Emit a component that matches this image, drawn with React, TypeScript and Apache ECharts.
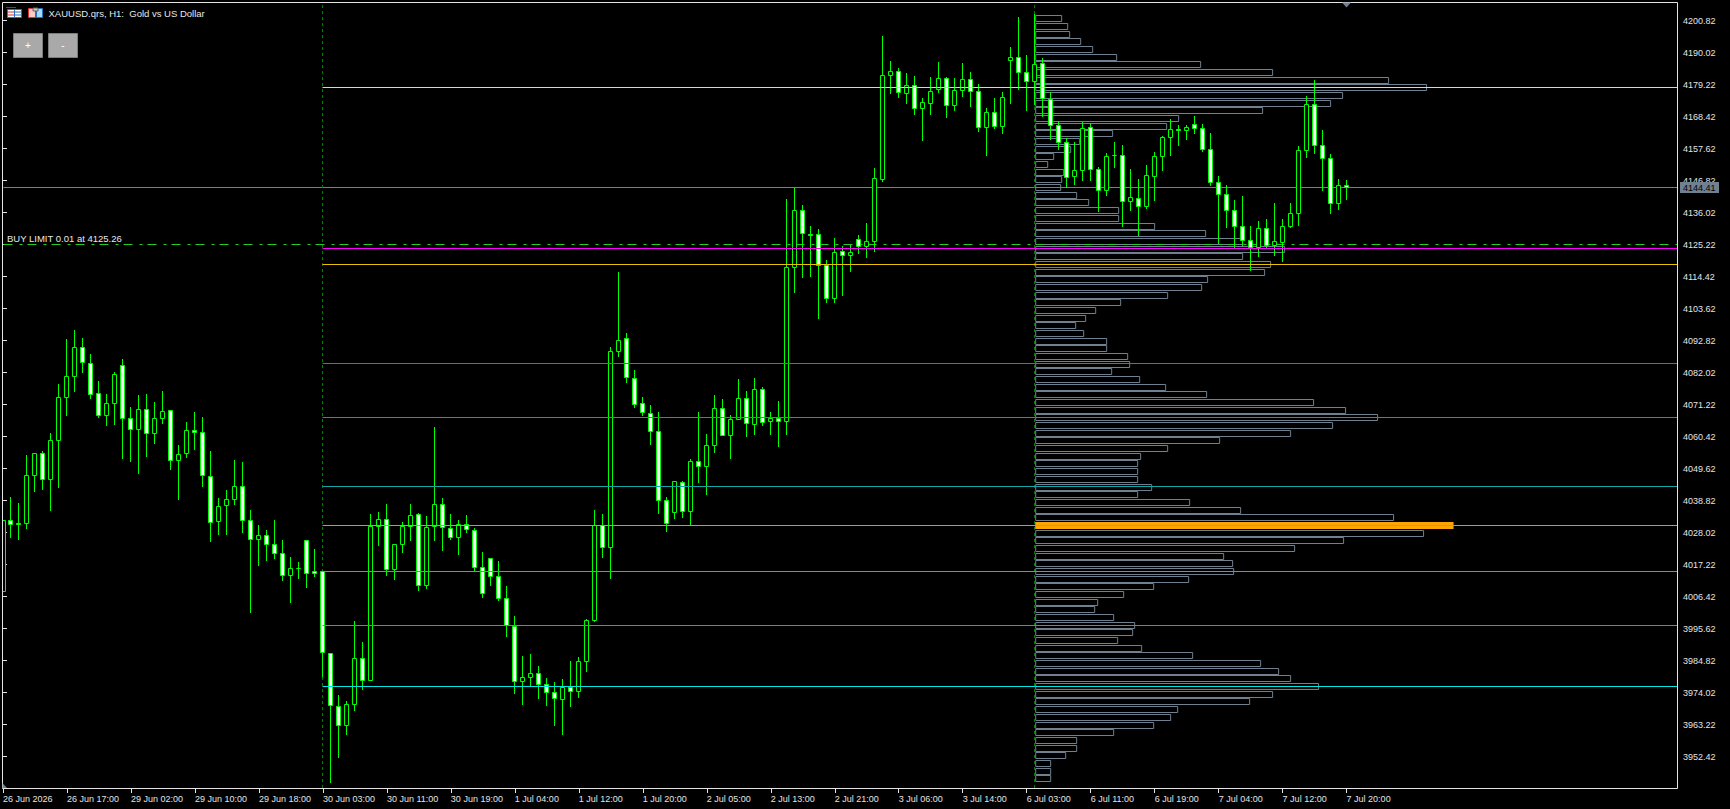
import React, { useEffect, useRef } from "react";
import * as echarts from "echarts";

const FONT = "'Liberation Sans', Arial, sans-serif";

// Hourly bars: [open, close, low, high]
const candles: number[][] = [
  [4008.2, 4032.0, 4008.0, 4032.1],
  [4032.0, 4030.8, 4026.5, 4040.0],
  [4031.0, 4030.7, 4025.8, 4037.9],
  [4031.2, 4047.2, 4029.5, 4054.1],
  [4047.4, 4054.6, 4042.0, 4054.7],
  [4054.6, 4046.0, 4042.7, 4055.5],
  [4046.0, 4059.0, 4035.6, 4061.4],
  [4059.2, 4073.5, 4043.3, 4078.1],
  [4073.7, 4080.6, 4067.6, 4093.3],
  [4080.8, 4090.4, 4075.7, 4096.3],
  [4090.4, 4085.3, 4082.1, 4093.6],
  [4085.0, 4074.7, 4073.4, 4088.2],
  [4074.8, 4067.6, 4067.0, 4079.1],
  [4067.6, 4071.5, 4064.3, 4074.7],
  [4071.7, 4081.3, 4064.6, 4082.1],
  [4084.3, 4066.6, 4053.1, 4086.5],
  [4066.4, 4062.9, 4052.1, 4070.3],
  [4062.9, 4069.4, 4048.1, 4074.4],
  [4069.4, 4061.5, 4053.8, 4074.7],
  [4061.5, 4066.4, 4058.1, 4072.0],
  [4066.6, 4068.8, 4064.9, 4075.7],
  [4069.1, 4052.4, 4049.4, 4069.2],
  [4052.4, 4054.3, 4039.3, 4057.5],
  [4054.8, 4062.4, 4053.5, 4065.3],
  [4062.4, 4061.9, 4056.2, 4068.6],
  [4061.7, 4047.4, 4043.7, 4067.0],
  [4046.8, 4031.5, 4025.1, 4055.5],
  [4031.8, 4036.7, 4027.5, 4039.6],
  [4037.2, 4039.1, 4027.5, 4042.3],
  [4039.3, 4043.5, 4037.6, 4052.4],
  [4043.5, 4032.2, 4028.1, 4051.8],
  [4032.0, 4025.8, 4001.1, 4035.6],
  [4025.8, 4026.9, 4016.8, 4030.5],
  [4026.9, 4024.1, 4018.7, 4028.8],
  [4023.9, 4021.0, 4019.4, 4032.2],
  [4020.8, 4013.6, 4011.9, 4025.4],
  [4013.6, 4015.8, 4004.5, 4019.7],
  [4016.0, 4015.8, 4012.6, 4018.0],
  [4025.2, 4014.3, 4009.6, 4025.3],
  [4014.8, 4014.3, 4013.3, 4022.4],
  [4014.7, 3987.4, 3979.3, 4014.9],
  [3987.1, 3969.5, 3943.5, 3987.2],
  [3969.2, 3963.0, 3952.2, 3973.1],
  [3963.0, 3969.9, 3960.0, 3971.1],
  [3970.1, 3985.4, 3968.1, 3998.1],
  [3985.4, 3978.2, 3975.2, 3991.0],
  [3978.2, 4030.0, 3978.0, 4034.2],
  [4030.1, 4032.3, 4023.8, 4034.9],
  [4032.3, 4015.6, 4013.6, 4037.6],
  [4015.5, 4023.9, 4012.3, 4024.0],
  [4024.1, 4030.1, 4021.4, 4031.5],
  [4030.1, 4033.7, 4025.4, 4037.6],
  [4034.0, 4010.2, 4008.6, 4034.6],
  [4010.2, 4029.6, 4009.2, 4033.5],
  [4029.9, 4037.4, 4025.4, 4063.6],
  [4037.4, 4029.6, 4022.1, 4039.6],
  [4029.3, 4026.5, 4025.8, 4034.2],
  [4026.4, 4030.6, 4020.7, 4032.2],
  [4030.6, 4028.9, 4028.1, 4033.9],
  [4028.6, 4016.3, 4015.0, 4029.4],
  [4016.1, 4007.5, 4006.2, 4021.4],
  [4019.2, 4013.3, 4010.3, 4019.3],
  [4013.1, 4005.8, 4005.2, 4018.4],
  [4005.7, 3996.8, 3993.0, 4009.9],
  [3996.4, 3977.8, 3973.8, 3999.8],
  [3977.8, 3979.0, 3970.1, 3986.3],
  [3979.2, 3980.3, 3976.5, 3987.0],
  [3980.3, 3976.8, 3972.1, 3982.9],
  [3976.6, 3974.1, 3969.8, 3978.9],
  [3973.9, 3972.1, 3963.0, 3977.5],
  [3971.8, 3975.8, 3960.0, 3978.5],
  [3975.8, 3974.5, 3969.4, 3984.6],
  [3974.5, 3984.4, 3972.5, 3986.0],
  [3984.6, 3998.2, 3981.2, 3998.7],
  [3998.4, 4030.3, 3997.9, 4035.6],
  [4030.3, 4023.1, 4019.7, 4034.2],
  [4023.1, 4089.1, 4012.6, 4090.6],
  [4089.1, 4092.8, 4087.5, 4115.9],
  [4093.5, 4080.3, 4078.8, 4095.2],
  [4080.0, 4071.2, 4070.3, 4082.8],
  [4071.5, 4068.4, 4067.4, 4073.7],
  [4068.1, 4062.2, 4057.8, 4071.0],
  [4062.0, 4038.9, 4034.6, 4068.6],
  [4038.7, 4031.2, 4028.5, 4040.0],
  [4034.9, 4045.1, 4032.9, 4045.2],
  [4044.8, 4035.2, 4033.2, 4045.4],
  [4035.2, 4051.9, 4030.4, 4052.8],
  [4051.9, 4050.4, 4045.0, 4068.6],
  [4050.4, 4057.3, 4041.0, 4061.2],
  [4057.5, 4069.8, 4055.1, 4074.4],
  [4069.8, 4060.9, 4060.6, 4073.0],
  [4060.9, 4066.1, 4053.1, 4067.6],
  [4066.3, 4073.2, 4066.0, 4079.8],
  [4073.2, 4064.9, 4060.5, 4075.7],
  [4064.6, 4076.2, 4061.2, 4080.1],
  [4076.2, 4065.2, 4064.0, 4077.1],
  [4065.6, 4066.4, 4061.2, 4068.6],
  [4066.4, 4065.6, 4057.2, 4072.4],
  [4065.6, 4117.4, 4061.2, 4140.5],
  [4117.6, 4136.6, 4109.1, 4144.2],
  [4136.6, 4128.8, 4114.2, 4138.5],
  [4128.6, 4128.4, 4114.5, 4131.4],
  [4128.5, 4118.3, 4100.4, 4130.4],
  [4118.2, 4107.1, 4105.8, 4119.9],
  [4107.1, 4122.4, 4105.8, 4127.4],
  [4122.8, 4121.6, 4108.1, 4124.7],
  [4121.6, 4122.4, 4116.2, 4125.0],
  [4126.8, 4124.6, 4122.3, 4128.4],
  [4124.6, 4126.1, 4121.0, 4132.4],
  [4126.3, 4147.4, 4123.0, 4151.0],
  [4147.0, 4182.2, 4146.6, 4195.5],
  [4182.4, 4183.5, 4176.3, 4187.1],
  [4183.5, 4176.4, 4175.0, 4184.7],
  [4176.3, 4178.8, 4172.9, 4183.1],
  [4178.8, 4171.2, 4169.2, 4182.0],
  [4171.2, 4173.1, 4160.4, 4174.6],
  [4172.9, 4176.8, 4169.2, 4181.7],
  [4177.5, 4181.2, 4176.6, 4186.8],
  [4181.2, 4172.2, 4168.2, 4181.7],
  [4172.2, 4177.1, 4170.6, 4181.4],
  [4177.3, 4180.8, 4175.3, 4186.4],
  [4180.8, 4177.0, 4171.9, 4183.4],
  [4176.8, 4164.8, 4163.5, 4179.3],
  [4164.8, 4169.7, 4155.4, 4171.2],
  [4169.7, 4165.1, 4164.5, 4174.6],
  [4165.1, 4174.7, 4162.8, 4176.6],
  [4187.4, 4188.2, 4172.9, 4191.8],
  [4188.2, 4183.4, 4177.7, 4202.0],
  [4183.2, 4180.3, 4170.6, 4189.1],
  [4180.3, 4185.9, 4172.6, 4203.0],
  [4186.2, 4174.4, 4168.5, 4188.0],
  [4174.1, 4165.5, 4160.8, 4176.5],
  [4165.3, 4159.7, 4157.4, 4166.7],
  [4159.6, 4147.9, 4144.6, 4161.0],
  [4148.3, 4150.1, 4145.6, 4159.8],
  [4150.3, 4164.3, 4146.9, 4166.5],
  [4164.6, 4150.6, 4146.9, 4166.1],
  [4150.4, 4143.3, 4136.5, 4151.3],
  [4143.5, 4154.8, 4141.9, 4156.1],
  [4155.3, 4155.1, 4151.3, 4159.8],
  [4155.2, 4139.8, 4131.4, 4158.8],
  [4139.8, 4141.0, 4136.8, 4150.7],
  [4140.7, 4138.1, 4128.4, 4147.3],
  [4138.1, 4148.4, 4137.5, 4152.0],
  [4148.3, 4154.8, 4140.2, 4156.4],
  [4155.0, 4161.2, 4150.3, 4161.8],
  [4161.4, 4163.9, 4155.4, 4167.5],
  [4163.9, 4163.7, 4158.8, 4165.5],
  [4163.8, 4164.6, 4160.8, 4165.5],
  [4165.6, 4164.5, 4162.8, 4168.5],
  [4164.3, 4157.4, 4156.7, 4165.8],
  [4157.2, 4146.2, 4145.3, 4162.8],
  [4146.1, 4142.2, 4125.7, 4148.3],
  [4142.0, 4136.8, 4131.1, 4145.3],
  [4136.6, 4131.4, 4124.3, 4140.2],
  [4131.2, 4126.7, 4125.0, 4141.5],
  [4126.5, 4124.1, 4116.6, 4131.4],
  [4124.1, 4130.5, 4121.3, 4133.1],
  [4130.5, 4124.9, 4124.2, 4133.8],
  [4125.0, 4126.1, 4121.6, 4139.2],
  [4126.0, 4131.2, 4119.6, 4133.8],
  [4131.4, 4135.6, 4131.1, 4139.2],
  [4135.8, 4156.9, 4131.8, 4158.4],
  [4157.0, 4172.4, 4154.7, 4175.3],
  [4172.4, 4158.7, 4156.1, 4180.7],
  [4158.5, 4154.3, 4143.6, 4163.8],
  [4154.2, 4139.2, 4135.8, 4155.7],
  [4139.2, 4145.0, 4137.2, 4147.3],
  [4145.0, 4144.41, 4140.5, 4146.9],
];

// Volume profile: bin price and relative volume
const profilePrices = [
  4201.42, 4198.83, 4196.24, 4193.65, 4191.06, 4188.47, 4185.87, 4183.28, 4180.69, 4178.1,
  4175.51, 4172.92, 4170.33, 4167.74, 4165.15, 4162.56, 4159.96, 4157.37, 4154.78, 4152.19,
  4149.6, 4147.01, 4144.42, 4141.83, 4139.24, 4136.65, 4134.05, 4131.46, 4128.87, 4126.28,
  4123.69, 4121.1, 4118.51, 4115.92, 4113.33, 4110.74, 4108.14, 4105.55, 4102.96, 4100.37,
  4097.78, 4095.19, 4092.6, 4090.01, 4087.42, 4084.83, 4082.23, 4079.64, 4077.05, 4074.46,
  4071.87, 4069.28, 4066.69, 4064.1, 4061.51, 4058.92, 4056.32, 4053.73, 4051.14, 4048.55,
  4045.96, 4043.37, 4040.78, 4038.19, 4035.6, 4033.01, 4030.41, 4027.82, 4025.23, 4022.64,
  4020.05, 4017.46, 4014.87, 4012.28, 4009.69, 4007.1, 4004.5, 4001.91, 3999.32, 3996.73,
  3994.14, 3991.55, 3988.96, 3986.37, 3983.78, 3981.19, 3978.59, 3976.0, 3973.41, 3970.82,
  3968.23, 3965.64, 3963.05, 3960.46, 3957.87, 3955.28, 3952.68, 3950.09, 3947.5, 3944.91,
];
const profileVolumes = [
  26, 32, 34, 45, 57, 81, 165, 237, 353, 391,
  307, 295, 227, 143, 131, 77, 44, 35, 18, 12,
  28, 26, 25, 41, 53, 83, 83, 119, 170, 207,
  249, 207, 235, 229, 172, 166, 132, 85, 60, 50,
  40, 48, 71, 71, 92, 94, 76, 104, 130, 171,
  278, 310, 342, 297, 255, 184, 132, 105, 102, 102,
  102, 116, 102, 154, 205, 358, 418, 388, 308, 259,
  188, 197, 198, 153, 118, 88, 62, 59, 78, 99,
  97, 82, 106, 157, 225, 243, 255, 283, 237, 214,
  142, 135, 118, 78, 41, 41, 30, 15, 15, 15,
];
const pointOfControl = 66;

// Horizontal levels drawn from the 30 Jun 03:00 bar
const levelPrices = [4178.21, 4123.87, 4118.47, 4085.06, 4066.8, 4043.55, 4030.4, 4014.86, 3996.6, 3976.0];
const levelColors = ["#F0F000", "#FF00FF", "#EBC000", "#1E80D0", "#32A032", "#10A8A8", "#DC9618", "#C060C0", "#E05A40", "#00E6E6"];
const levelStartBar = 40;

const lastPrice = 4144.41;
const buyLimitPrice = 4125.26;
const separatorBars = [40, 129];

const priceTicks = [
  4200.82, 4190.02, 4179.22, 4168.42, 4157.62, 4146.82, 4136.02, 4125.22, 4114.42, 4103.62,
  4092.82, 4082.02, 4071.22, 4060.42, 4049.62, 4038.82, 4028.02, 4017.22, 4006.42, 3995.62,
  3984.82, 3974.02, 3963.22, 3952.42,
];
const timeTickBars = [0, 8, 16, 24, 32, 40, 48, 56, 64, 72, 80, 88, 96, 104, 112, 120, 128, 136, 144, 152, 160, 168];
const timeTickLabels = [
  "26 Jun 2026", "26 Jun 17:00", "29 Jun 02:00", "29 Jun 10:00", "29 Jun 18:00", "30 Jun 03:00",
  "30 Jun 11:00", "30 Jun 19:00", "1 Jul 04:00", "1 Jul 12:00", "1 Jul 20:00", "2 Jul 05:00",
  "2 Jul 13:00", "2 Jul 21:00", "3 Jul 06:00", "3 Jul 14:00", "6 Jul 03:00", "6 Jul 11:00",
  "6 Jul 19:00", "7 Jul 04:00", "7 Jul 12:00", "7 Jul 20:00",
];

// Axis windows: the grid box sits on whole pixels, so bars and prices land on pixel centres.
const PRICE_MIN = 3941.4513;
const PRICE_MAX = 4207.06375;
const BAR_MIN = -0.0625;
const BAR_MAX = 209.4375;
const LAST_BAR_EDGE = 209.375;

const snap = (v: number) => Math.floor(v) + 0.5;

function levelRender(color: (i: number) => string, dash?: number[]) {
  return (params: any, api: any) => {
    const a = api.coord([api.value(0), api.value(1)]);
    const b = api.coord([LAST_BAR_EDGE, api.value(1)]);
    return {
      type: "line",
      shape: { x1: snap(a[0]), y1: snap(a[1]), x2: b[0], y2: snap(a[1]) },
      style: { stroke: color(params.dataIndex), lineWidth: 1, lineDash: dash, fill: null },
      silent: true,
    };
  };
}

function renderCandle(_p: any, api: any) {
  const i = api.value(0);
  const open = api.value(1);
  const close = api.value(2);
  const x = snap(api.coord([i, open])[0]);
  const yBodyTop = snap(api.coord([i, Math.max(open, close)])[1]);
  const yBodyBottom = snap(api.coord([i, Math.min(open, close)])[1]);
  const yHigh = snap(api.coord([i, api.value(4)])[1]);
  const yLow = snap(api.coord([i, api.value(3)])[1]);
  const green = "#00FF00";
  return {
    type: "group",
    silent: true,
    children: [
      { type: "line", shape: { x1: x, y1: yHigh - 0.5, x2: x, y2: yBodyTop }, style: { stroke: green, lineWidth: 1, fill: null } },
      { type: "line", shape: { x1: x, y1: yBodyBottom, x2: x, y2: yLow + 0.5 }, style: { stroke: green, lineWidth: 1, fill: null } },
      {
        type: "rect",
        shape: { x: x - 2, y: yBodyTop, width: 4, height: yBodyBottom - yBodyTop },
        style: { fill: close > open ? "#000000" : "#FFFFFF", stroke: green, lineWidth: 1 },
      },
    ],
  };
}

function buildOption() {
  const tickColor = "#E4E4E4";
  const plain = (data: number[][], z: number, renderItem: any, extra: any = {}) => ({
    type: "custom",
    coordinateSystem: "cartesian2d",
    data,
    z,
    silent: true,
    clip: true,
    renderItem,
    ...extra,
  });

  return {
    animation: false,
    backgroundColor: "#000000",
    textStyle: { fontFamily: FONT },
    grid: { left: 2, top: 2, width: 1676, height: 787, show: false, containLabel: false },
    xAxis: [
      {
        type: "value",
        min: BAR_MIN,
        max: BAR_MAX,
        splitLine: { show: false },
        axisLine: { show: false },
        axisTick: { show: true, length: 4, customValues: timeTickBars, lineStyle: { color: tickColor } },
        axisLabel: {
          show: true,
          customValues: timeTickBars,
          formatter: (v: number) => timeTickLabels[timeTickBars.indexOf(v)] ?? "",
          color: tickColor,
          fontFamily: FONT,
          fontSize: 9,
          align: "left",
          margin: 5,
          showMinLabel: true,
          showMaxLabel: true,
        },
      },
      { type: "value", min: -1033.5, max: 642.5, show: false, splitLine: { show: false } },
    ],
    yAxis: {
      type: "value",
      position: "right",
      min: PRICE_MIN,
      max: PRICE_MAX,
      scale: true,
      splitLine: { show: false },
      axisLine: { show: false },
      axisTick: { show: true, length: 4, customValues: priceTicks, lineStyle: { color: tickColor } },
      axisLabel: {
        show: true,
        customValues: priceTicks,
        formatter: (v: number) => v.toFixed(2),
        color: tickColor,
        fontFamily: FONT,
        fontSize: 9,
        margin: 5,
        showMinLabel: true,
        showMaxLabel: true,
      },
    },
    series: [
      plain(
        profilePrices.map((p, i) => [profileVolumes[i], p]),
        1,
        (params: any, api: any) => {
          const base = api.coord([0, api.value(1)]);
          const end = api.coord([api.value(0), api.value(1)]);
          const cy = snap(base[1]);
          const poc = params.dataIndex === pointOfControl;
          return {
            type: "rect",
            shape: poc
              ? { x: base[0] - 0.5, y: cy - 3.5, width: end[0] - base[0] + 0.5, height: 7 }
              : { x: base[0], y: cy - 3, width: end[0] - base[0], height: 6 },
            style: poc ? { fill: "#FFA500", stroke: null } : { fill: "none", stroke: "#708090", lineWidth: 1 },
            silent: true,
          };
        },
        { xAxisIndex: 1 }
      ),
      plain([[0, lastPrice]], 2, levelRender(() => "#708090")),
      plain([[0, buyLimitPrice]], 2, levelRender(() => "#22CC22", [9, 7, 3, 5])),
      plain(
        separatorBars.map((b) => [b, PRICE_MIN, PRICE_MAX]),
        2,
        (_p: any, api: any) => {
          const a = api.coord([api.value(0), api.value(1)]);
          const b = api.coord([api.value(0), api.value(2)]);
          const x = snap(a[0]);
          return {
            type: "line",
            shape: { x1: x, y1: a[1] - 1, x2: x, y2: b[1] + 1 },
            style: { stroke: "#008000", lineWidth: 1, lineDash: [3, 3], fill: null },
            silent: true,
          };
        }
      ),
      plain(
        candles.map((c, i) => [i, ...c]),
        3,
        renderCandle
      ),
      plain(
        levelPrices.map((p) => [levelStartBar, p]),
        4,
        levelRender((i) => levelColors[i])
      ),
    ],
    graphic: {
      elements: [
        // plot frame
        { type: "rect", z: 90, shape: { x: 2.5, y: 2.5, width: 1675, height: 786 }, style: { fill: "none", stroke: tickColor, lineWidth: 1 } },
        // window-title icons
        { type: "rect", z: 100, shape: { x: 7.5, y: 9.5, width: 7, height: 8 }, style: { fill: "#FFFFFF", stroke: "#E03030", lineWidth: 1 } },
        { type: "rect", z: 100, shape: { x: 14.5, y: 9.5, width: 7, height: 8 }, style: { fill: "#FFFFFF", stroke: "#2070C0", lineWidth: 1 } },
        { type: "line", z: 101, shape: { x1: 8, y1: 12, x2: 14, y2: 12 }, style: { stroke: "#E03030", lineWidth: 1 } },
        { type: "line", z: 101, shape: { x1: 8, y1: 15, x2: 14, y2: 15 }, style: { stroke: "#E03030", lineWidth: 1 } },
        { type: "line", z: 101, shape: { x1: 15, y1: 12, x2: 21, y2: 12 }, style: { stroke: "#2070C0", lineWidth: 1 } },
        { type: "line", z: 101, shape: { x1: 15, y1: 15, x2: 21, y2: 15 }, style: { stroke: "#2070C0", lineWidth: 1 } },
        { type: "line", z: 101, shape: { x1: 6, y1: 7.5, x2: 16, y2: 7.5 }, style: { stroke: "#E01010", lineWidth: 1 } },
        { type: "rect", z: 100, shape: { x: 28.5, y: 8.5, width: 7, height: 9 }, style: { fill: "#FFC8C0", stroke: "#E03030", lineWidth: 1 } },
        { type: "rect", z: 100, shape: { x: 36.5, y: 8.5, width: 6, height: 9 }, style: { fill: "#A8D8F8", stroke: "#2070C0", lineWidth: 1 } },
        { type: "rect", z: 101, shape: { x: 33, y: 8, width: 5, height: 3 }, style: { fill: "#C8C8C8", stroke: "#606060", lineWidth: 1 } },
        { type: "text", z: 100, x: 48.5, y: 13.5, style: { text: "XAUUSD.qrs, H1:  Gold vs US Dollar", fill: "#E8E8E8", font: `9.5px ${FONT}`, textVerticalAlign: "middle" } },
        // +/- buttons
        { type: "rect", z: 100, shape: { x: 13.5, y: 33.5, width: 29, height: 24 }, style: { fill: "#A9A9A9", stroke: "#7C7C7C", lineWidth: 1 } },
        { type: "rect", z: 100, shape: { x: 48.5, y: 33.5, width: 29, height: 24 }, style: { fill: "#A9A9A9", stroke: "#7C7C7C", lineWidth: 1 } },
        { type: "text", z: 101, x: 28, y: 45.5, style: { text: "+", fill: "#FFFFFF", font: `10px ${FONT}`, textAlign: "center", textVerticalAlign: "middle" } },
        { type: "text", z: 101, x: 63, y: 45.5, style: { text: "-", fill: "#FFFFFF", font: `10px ${FONT}`, textAlign: "center", textVerticalAlign: "middle" } },
        // order label
        { type: "text", z: 100, x: 7, y: 238.7, style: { text: `BUY LIMIT 0.01 at ${buyLimitPrice.toFixed(2)}`, fill: "#E8E8E8", font: `9.5px ${FONT}`, textVerticalAlign: "middle" } },
        // last-price tag
        { type: "rect", z: 100, shape: { x: 1680, y: 182, width: 39, height: 11 }, style: { fill: "#708090", stroke: null } },
        { type: "text", z: 101, x: 1683, y: 187.8, style: { text: lastPrice.toFixed(2), fill: "#000000", font: `9px ${FONT}`, textVerticalAlign: "middle" } },
        // chart-shift and scale markers
        { type: "polygon", z: 100, shape: { points: [[1342, 2.5], [1351, 2.5], [1346.5, 7.5]] }, style: { fill: "#708090", stroke: null } },
        { type: "polygon", z: 100, shape: { points: [[2.5, 783], [2.5, 788], [7, 788]] }, style: { fill: "#708090", stroke: null } },
      ],
    },
  };
}

export default function App() {
  const ref = useRef<HTMLDivElement>(null);
  useEffect(() => {
    document.body.style.margin = "0";
    document.body.style.background = "#000000";
    const chart = echarts.init(ref.current!, undefined, { renderer: "svg" });
    chart.setOption(buildOption() as any);
    return () => chart.dispose();
  }, []);
  return <div ref={ref} style={{ position: "absolute", left: 0, top: 0, width: 1730, height: 809 }} />;
}
